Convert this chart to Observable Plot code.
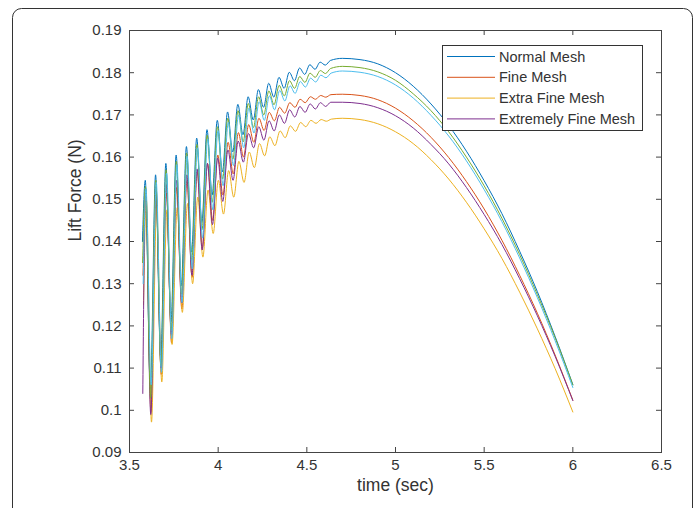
<!DOCTYPE html>
<html><head><meta charset="utf-8">
<script src="https://cdn.jsdelivr.net/npm/d3@7"></script>
<script src="https://cdn.jsdelivr.net/npm/@observablehq/plot@0.6"></script>
<style>
html,body{margin:0;padding:0;background:#fff;}
#chart{position:relative;width:697px;height:508px;overflow:hidden;}
</style></head><body><div id="chart"></div>
<script>
// ---- data ----
const time = [3.573, 3.589, 3.618, 3.647, 3.676, 3.705, 3.734, 3.763, 3.792, 3.821, 3.850, 3.879, 3.908, 3.937, 3.966, 3.995, 4.024, 4.053, 4.082, 4.111, 4.140, 4.169, 4.198, 4.227, 4.256, 4.285, 4.314, 4.343, 4.372, 4.401, 4.430, 4.459, 4.488, 4.517, 4.546, 4.575, 4.604, 4.633,
  4.7, 4.8, 4.9, 5.0, 5.1, 5.2, 5.3, 5.4, 5.5, 5.6, 5.7, 5.8, 5.9, 6.0];
const oscCount = 38;

const normalMesh = [0.1400, 0.1545, 0.1050, 0.1558, 0.1125, 0.1585, 0.1210, 0.1605, 0.1295, 0.1625, 0.1375, 0.1645, 0.1445, 0.1665, 0.1510, 0.1687, 0.1565, 0.1707, 0.1612, 0.1725, 0.1653, 0.1743, 0.1688, 0.1760, 0.1718, 0.1775, 0.1742, 0.1789, 0.1763, 0.1801, 0.1781, 0.1811, 0.1796, 0.1819, 0.1808, 0.1825, 0.1818, 0.1829,
  0.1834, 0.1831, 0.1821, 0.1800, 0.1768, 0.1726, 0.1675, 0.1614, 0.1544, 0.1466, 0.1377, 0.1281, 0.1175, 0.1061];
const fineMesh = [0.1320, 0.1520, 0.0995, 0.1510, 0.1085, 0.1515, 0.1160, 0.1528, 0.1240, 0.1545, 0.1315, 0.1565, 0.1385, 0.1585, 0.1450, 0.1605, 0.1510, 0.1635, 0.1560, 0.1658, 0.1600, 0.1677, 0.1635, 0.1692, 0.1663, 0.1706, 0.1686, 0.1718, 0.1704, 0.1729, 0.1718, 0.1737, 0.1729, 0.1743, 0.1737, 0.1746, 0.1742, 0.1748,
  0.1749, 0.1746, 0.1736, 0.1716, 0.1686, 0.1647, 0.1599, 0.1542, 0.1477, 0.1403, 0.1320, 0.1230, 0.1131, 0.1024];
const extraFineMesh = [0.1250, 0.1500, 0.0972, 0.1480, 0.1067, 0.1475, 0.1156, 0.1480, 0.1232, 0.1490, 0.1300, 0.1505, 0.1363, 0.1522, 0.1419, 0.1545, 0.1465, 0.1568, 0.1505, 0.1590, 0.1540, 0.1612, 0.1575, 0.1632, 0.1603, 0.1648, 0.1627, 0.1662, 0.1646, 0.1674, 0.1661, 0.1682, 0.1672, 0.1687, 0.1680, 0.1689, 0.1685, 0.1690,
  0.1692, 0.1689, 0.1679, 0.1660, 0.1632, 0.1594, 0.1548, 0.1493, 0.1430, 0.1360, 0.1280, 0.1193, 0.1099, 0.0996];
const extremelyFineMesh = [0.1040, 0.1525, 0.0990, 0.1530, 0.1100, 0.1535, 0.1180, 0.1545, 0.1255, 0.1558, 0.1320, 0.1572, 0.1380, 0.1585, 0.1440, 0.1598, 0.1495, 0.1617, 0.1545, 0.1638, 0.1588, 0.1656, 0.1622, 0.1672, 0.1640, 0.1686, 0.1662, 0.1700, 0.1680, 0.1712, 0.1695, 0.1720, 0.1706, 0.1726, 0.1714, 0.1729, 0.1720, 0.1730,
  0.1730, 0.1727, 0.1717, 0.1698, 0.1669, 0.1630, 0.1584, 0.1528, 0.1464, 0.1393, 0.1312, 0.1224, 0.1128, 0.1023];
const unlabeled5 = [0.1350, 0.1530, 0.1030, 0.1545, 0.1105, 0.1570, 0.1190, 0.1590, 0.1275, 0.1610, 0.1355, 0.1630, 0.1428, 0.1652, 0.1493, 0.1672, 0.1548, 0.1692, 0.1595, 0.1710, 0.1636, 0.1727, 0.1670, 0.1743, 0.1700, 0.1757, 0.1724, 0.1770, 0.1745, 0.1781, 0.1763, 0.1791, 0.1777, 0.1799, 0.1789, 0.1805, 0.1798, 0.1810,
  0.1815, 0.1812, 0.1802, 0.1782, 0.1750, 0.1710, 0.1660, 0.1600, 0.1532, 0.1455, 0.1369, 0.1274, 0.1172, 0.1060];
const unlabeled6 = [0.1300, 0.1525, 0.1060, 0.1540, 0.1090, 0.1562, 0.1170, 0.1582, 0.1255, 0.1602, 0.1335, 0.1622, 0.1408, 0.1643, 0.1475, 0.1663, 0.1532, 0.1682, 0.1580, 0.1700, 0.1622, 0.1716, 0.1657, 0.1731, 0.1687, 0.1745, 0.1712, 0.1758, 0.1733, 0.1769, 0.1751, 0.1779, 0.1766, 0.1787, 0.1778, 0.1794, 0.1788, 0.1799,
  0.1804, 0.1801, 0.1791, 0.1771, 0.1740, 0.1699, 0.1650, 0.1591, 0.1523, 0.1447, 0.1361, 0.1267, 0.1165, 0.1054];

const seriesValues = [normalMesh, fineMesh, extraFineMesh, extremelyFineMesh, unlabeled5, unlabeled6];
const seriesLag = [0, 0.003, 0.006, 0.002, 0.001, 0.004]; // phase lag of the early oscillation (s)
const legendNames = ["Normal Mesh", "Fine Mesh", "Extra Fine Mesh", "Extremely Fine Mesh"];
const colors = ["#0072BD", "#D95319", "#EDB120", "#7E2F8E", "#77AC30", "#4DBEEE"];

const xTicks = [3.5, 4, 4.5, 5, 5.5, 6, 6.5];
const yTicks = [0.09, 0.1, 0.11, 0.12, 0.13, 0.14, 0.15, 0.16, 0.17, 0.18, 0.19];
const xLabel = "time (sec)";
const yLabel = "Lift Force (N)";

// ---- build ----
const W = 697, H = 508, mL = 129, mR = 36, mT = 30, mB = 56;
const innerW = W - mL - mR, innerH = H - mT - mB;
const tickLen = 5;
const font = "'Liberation Sans', Arial, Helvetica, sans-serif";
const ink = "#333";

const lineMarks = seriesValues.map((vals, i) => {
  const rows = vals.map((v, j) => ({t: time[j] + (j < oscCount ? seriesLag[i] : 0), v}));
  return Plot.line(rows, {x: "t", y: "v", stroke: colors[i], strokeWidth: 1, curve: "monotone-x"});
});

const plot = Plot.plot({
  width: W, height: H,
  marginLeft: mL, marginRight: mR, marginTop: mT, marginBottom: mB,
  style: {fontFamily: font, background: "transparent", color: ink},
  x: {domain: [3.5, 6.5]},
  y: {domain: [0.09, 0.19]},
  marks: [
    Plot.axisX(xTicks, {tickSize: 0, tickPadding: 7, fontSize: 15, tickFormat: d => String(d), label: null, fill: ink}),
    Plot.axisY(yTicks, {tickSize: 0, tickPadding: 8, fontSize: 15, tickFormat: d => String(+d.toFixed(2)), label: null, fill: ink}),
    ...lineMarks,
    Plot.tickX(xTicks, {x: d => d, insetTop: innerH - tickLen, stroke: "#444"}),
    Plot.tickX(xTicks, {x: d => d, insetBottom: innerH - tickLen, stroke: "#444"}),
    Plot.tickY(yTicks, {y: d => d, insetRight: innerW - tickLen, stroke: "#444"}),
    Plot.tickY(yTicks, {y: d => d, insetLeft: innerW - tickLen, stroke: "#444"}),
    Plot.frame({stroke: "#444"}),
    Plot.text([xLabel], {text: d => d, frameAnchor: "bottom", dy: 38, fontSize: 17.5, fill: ink}),
    Plot.text([yLabel], {text: d => d, frameAnchor: "left", dx: -54, rotate: -90, fontSize: 17.5, fill: ink})
  ]
});
document.getElementById("chart").appendChild(plot);

// outer rounded border and legend
const svg = d3.select(plot);
svg.insert("rect", ":first-child")
  .attr("x", 12.5).attr("y", 8.5).attr("width", 680).attr("height", 600).attr("rx", 9)
  .attr("fill", "none").attr("stroke", "#333").attr("stroke-width", 1);
const lg = svg.append("g").attr("font-family", font).attr("font-size", 14.5).attr("fill", ink).attr("text-anchor", "start");
lg.append("rect").attr("x", 442.5).attr("y", 45.5).attr("width", 200).attr("height", 85)
  .attr("fill", "white").attr("stroke", "#333");
legendNames.forEach((name, i) => {
  const y = 56.5 + i * 20.8;
  lg.append("line").attr("x1", 447).attr("x2", 495).attr("y1", y).attr("y2", y).attr("stroke", colors[i]);
  lg.append("text").attr("x", 499).attr("y", y).attr("dy", "0.35em").attr("text-anchor", "start").text(name);
});
</script>
</body></html>
